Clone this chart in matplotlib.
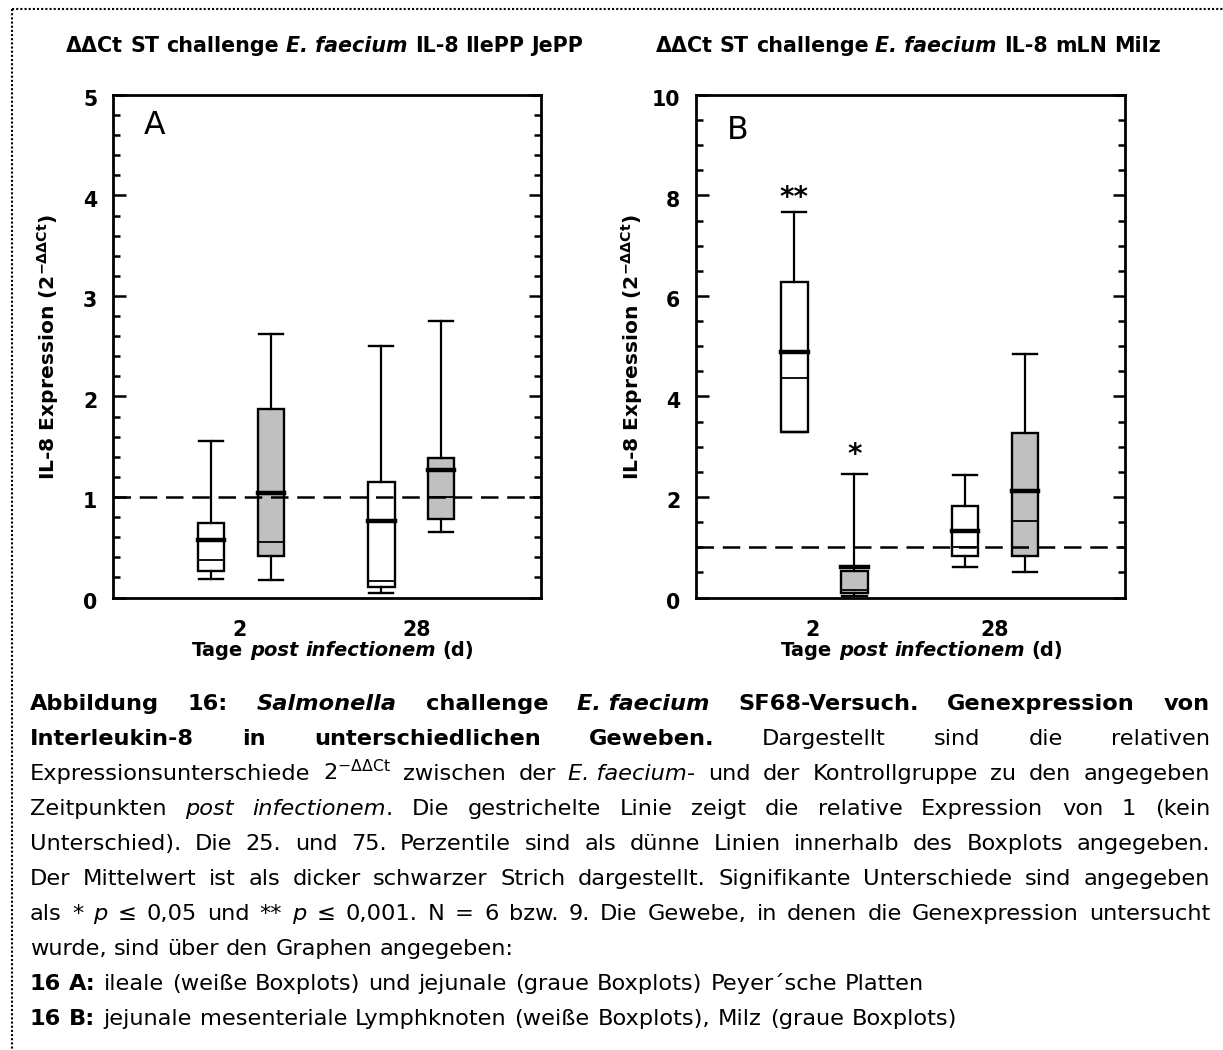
import matplotlib
matplotlib.use('Agg')
import matplotlib.pyplot as plt
from matplotlib.lines import Line2D
from matplotlib.ticker import MultipleLocator
from matplotlib.transforms import ScaledTranslation

plt.rcParams['font.family'] = ['DejaVu Sans']
plt.rcParams['mathtext.fontset'] = 'dejavusans'

# ---- data ----
days = ['2', '28']

# A: ileale (white) / jejunale (gray) Peyer'sche Platten
a_white_low = [0.18, 0.04]
a_white_q1 = [0.26, 0.10]
a_white_med = [0.37, 0.16]
a_white_mean = [0.57, 0.76]
a_white_q3 = [0.74, 1.15]
a_white_high = [1.56, 2.50]

a_gray_low = [0.17, 0.65]
a_gray_q1 = [0.41, 0.78]
a_gray_med = [0.55, 1.00]
a_gray_mean = [1.04, 1.27]
a_gray_q3 = [1.88, 1.39]
a_gray_high = [2.62, 2.75]

# B: mLN (white) / Milz (gray)
b_white_low = [3.30, 0.60]
b_white_q1 = [3.30, 0.83]
b_white_med = [4.36, 1.00]
b_white_mean = [4.89, 1.33]
b_white_q3 = [6.28, 1.82]
b_white_high = [7.67, 2.44]

b_gray_low = [0.03, 0.50]
b_gray_q1 = [0.09, 0.83]
b_gray_med = [0.14, 1.53]
b_gray_mean = [0.60, 2.11]
b_gray_q3 = [0.52, 3.28]
b_gray_high = [2.45, 4.85]

b_white_sig = ['**', '']
b_gray_sig = ['*', '']
b_white_sig_y = [8.09, 0]
b_gray_sig_y = [2.99, 0]

W, H = 1223, 1050
fig = plt.figure(figsize=(W / 100, H / 100), dpi=100)
renderer = fig.canvas.get_renderer()


def fx(px):
    return px / W


def fy(py):
    return 1 - py / H


STYLES = {'r': ('normal', 'normal'), 'b': ('bold', 'normal'),
          'i': ('normal', 'italic'), 'bi': ('bold', 'italic')}


def props_for(style, size):
    weight, fstyle = STYLES[style]
    return dict(fontsize=size, fontweight=weight, fontstyle=fstyle)


def seg_width(text, props):
    t = fig.text(0, 0, text, **props)
    w = t.get_window_extent(renderer).width
    t.remove()
    return w


def split_words(runs):
    words = [[]]
    for text, style in runs:
        parts = text.split(' ')
        for i, p in enumerate(parts):
            if i > 0:
                words.append([])
            if p:
                words[-1].append((p, style))
    return [w for w in words if w]


def draw_runs(runs, x, y, size, width=None, center=None):
    words = split_words(runs)
    widths = [sum(seg_width(s, props_for(st, size)) for s, st in w) for w in words]
    style0 = words[0][0][1]
    gap = seg_width('n n', props_for(style0, size)) - seg_width('nn', props_for(style0, size))
    if width is not None and len(words) > 1:
        gap = (width - sum(widths)) / (len(words) - 1)
    total = sum(widths) + gap * (len(words) - 1)
    if center is not None:
        x = center - total / 2
    cx = x
    for w in words:
        for s, st in w:
            p = props_for(st, size)
            fig.text(fx(cx), fy(y), s, va='baseline', ha='left', **p)
            cx += seg_width(s, p)
        cx += gap


def draw_panel(rect, ylim, major, minor, white, gray, tick_pos, letter, letter_y):
    ax = fig.add_axes(rect)
    centers = [3.0, 6.97]
    off = 0.7
    for stats_src, fc, sign in ((white, 'white', -1), (gray, '#c0c0c0', 1)):
        low, q1, med, mean, q3, high = stats_src
        stats = [dict(whislo=low[i], q1=q1[i], med=med[i], mean=mean[i], q3=q3[i],
                      whishi=high[i], fliers=[]) for i in range(len(days))]
        ax.bxp(stats, positions=[c + sign * off for c in centers], widths=0.62,
               capwidths=0.56, patch_artist=True, showmeans=True, meanline=True,
               boxprops=dict(facecolor=fc, edgecolor='black', linewidth=1.7),
               medianprops=dict(color='black', linewidth=1.3),
               meanprops=dict(color='black', linewidth=3.2, linestyle='-',
                              solid_capstyle='projecting'),
               whiskerprops=dict(color='black', linewidth=1.6),
               capprops=dict(color='black', linewidth=1.7),
               manage_ticks=False, zorder=3)
    ax.axhline(1, color='black', lw=1.8, ls=(0, (7, 3.5)), zorder=5)
    ax.set_xlim(0, 10)
    ax.set_ylim(*ylim)
    yt = list(range(ylim[0], ylim[1] + 1, major))
    ax.set_yticks(yt, labels=[str(v) for v in yt], fontweight='bold', fontsize=14.8)
    ax.yaxis.set_minor_locator(MultipleLocator(minor))
    ax.tick_params(axis='y', which='both', direction='in', left=True, right=True,
                   width=1.8, pad=11)
    ax.tick_params(axis='y', which='major', length=9)
    ax.tick_params(axis='y', which='minor', length=5)
    shift = ScaledTranslation(0, -0.035, fig.dpi_scale_trans)
    for lbl in ax.get_yticklabels():
        lbl.set_transform(lbl.get_transform() + shift)
    ax.set_xticks(tick_pos, labels=days, fontweight='bold', fontsize=14.8)
    ax.tick_params(axis='x', length=0, pad=16)
    for s in ax.spines.values():
        s.set_linewidth(2.0)
    ax.text(0.097, letter_y, letter, transform=ax.transAxes, fontsize=22.7,
            ha='center', va='center')
    return ax


ax_a = draw_panel([fx(112.7), fy(597.5), 428.3 / W, 502.5 / H], (0, 5), 1, 0.2,
                  (a_white_low, a_white_q1, a_white_med, a_white_mean, a_white_q3, a_white_high),
                  (a_gray_low, a_gray_q1, a_gray_med, a_gray_mean, a_gray_q3, a_gray_high),
                  [2.97, 7.1], 'A', 0.94)
ax_b = draw_panel([fx(695.6), fy(597.5), 429.4 / W, 502.5 / H], (0, 10), 2, 0.5,
                  (b_white_low, b_white_q1, b_white_med, b_white_mean, b_white_q3, b_white_high),
                  (b_gray_low, b_gray_q1, b_gray_med, b_gray_mean, b_gray_q3, b_gray_high),
                  [2.73, 6.96], 'B', 0.93)

for sig, sy, pos in ((b_white_sig, b_white_sig_y, 2.3), (b_gray_sig, b_gray_sig_y, 3.7)):
    for i, s in enumerate(sig):
        if s:
            ax_b.annotate(s, (pos + i * 3.97, sy[i]), xytext=(0, -0.555 * 20),
                          textcoords='offset points', ha='center', va='baseline',
                          fontsize=20, fontweight='bold')

ylab = 'IL-8 Expression (2$^{\\mathbf{-ΔΔCt}}$)'
fig.text(fx(48), fy(347), ylab, rotation=90, ha='center', va='center',
         fontsize=14.6, fontweight='bold')
fig.text(fx(632), fy(347), ylab, rotation=90, ha='center', va='center',
         fontsize=14.6, fontweight='bold')

# titles
draw_runs([('ΔΔCt ST challenge ', 'b'), ('E.\u00a0faecium', 'bi'), (' IL-8 IlePP JePP', 'b')],
          0, 52, 14.9, center=324.7)
draw_runs([('ΔΔCt ST challenge ', 'b'), ('E.\u00a0faecium', 'bi'), (' IL-8 mLN Milz', 'b')],
          0, 52, 14.9, center=908)

# x labels
xl = [('Tage ', 'b'), ('post infectionem', 'bi'), (' (d)', 'b')]
draw_runs(xl, 0, 656, 14, center=333)
draw_runs(xl, 0, 656, 14, center=922)

# caption
caption = [
    ([('Abbildung 16: ', 'b'), ('Salmonella', 'bi'), (' challenge ', 'b'), ('E.\u00a0faecium', 'bi'),
      (' SF68-Versuch. Genexpression von', 'b')], True),
    ([('Interleukin-8 in unterschiedlichen Geweben.', 'b'),
      (' Dargestellt sind die relativen', 'r')], True),
    ([('Expressionsunterschiede 2$^{\\mathrm{-ΔΔCt}}$ zwischen der ', 'r'), ('E.\u00a0faecium', 'i'),
      ('- und der Kontrollgruppe zu den angegeben', 'r')], True),
    ([('Zeitpunkten ', 'r'), ('post infectionem', 'i'),
      ('. Die gestrichelte Linie zeigt die relative Expression von 1 (kein', 'r')], True),
    ([('Unterschied). Die 25. und 75. Perzentile sind als dünne Linien innerhalb des Boxplots angegeben.', 'r')], True),
    ([('Der Mittelwert ist als dicker schwarzer Strich dargestellt. Signifikante Unterschiede sind angegeben', 'r')], True),
    ([('als * ', 'r'), ('p', 'i'), (' ≤ 0,05 und ** ', 'r'), ('p', 'i'),
      (' ≤ 0,001. N = 6 bzw. 9. Die Gewebe, in denen die Genexpression untersucht', 'r')], True),
    ([('wurde, sind über den Graphen angegeben:', 'r')], False),
    ([('16 A:', 'b'), (' ileale (weiße Boxplots) und jejunale (graue Boxplots) Peyer´sche Platten', 'r')], False),
    ([('16 B:', 'b'), (' jejunale mesenteriale Lymphknoten (weiße Boxplots), Milz (graue Boxplots)', 'r')], False),
]
for i, (runs, just) in enumerate(caption):
    draw_runs(runs, 30, 710 + 35 * i, 16.2, width=1180 if just else None)

# dotted frame
dots = dict(color='black', lw=1.5, ls=(0, (1, 1)), transform=fig.transFigure)
fig.add_artist(Line2D([fx(12), fx(12)], [fy(9), 0], **dots))
fig.add_artist(Line2D([fx(12), 1], [fy(9), fy(9)], **dots))

fig.savefig('out.png', dpi=100)
